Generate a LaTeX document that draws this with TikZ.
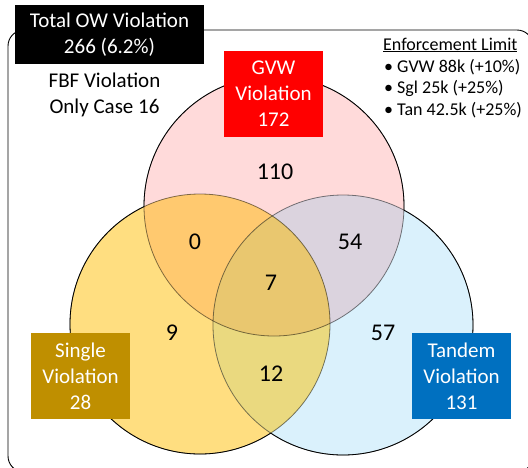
\documentclass[tikz,border=0pt]{standalone}
\usepackage{fontspec}
\setmainfont{Carlito}
\definecolor{pk}{HTML}{FFDADA}
\definecolor{yl}{HTML}{FFDE80}
\definecolor{bl}{HTML}{DAF1FC}
\definecolor{py}{HTML}{FFC96F}
\definecolor{pb}{HTML}{DBD3DE}
\definecolor{yb}{HTML}{EAD97F}
\definecolor{pyb}{HTML}{E9C76F}
\definecolor{gold}{HTML}{BF8F00}
\definecolor{tblue}{HTML}{0070C0}
\definecolor{gred}{HTML}{FF0000}
\begin{document}
\begin{tikzpicture}[x=1pt,y=-1pt,
  lbl/.style={font=\fontsize{21}{26}\selectfont, align=center, text=white, inner sep=0},
  plain/.style={font=\fontsize{21}{26}\selectfont, align=center, text=black, inner sep=0},
  num/.style={font=\fontsize{24}{28}\selectfont, inner sep=0},
  leg/.style={font=\fontsize{18}{21}\selectfont, inner sep=0, anchor=west},
  ring/.style={draw=black, line width=0.8pt}]
\useasboundingbox (0,0) rectangle (528,467);
\clip (0,0) rectangle (528,467);
\def\R{130pt}
\coordinate (P) at (274,206);
\coordinate (S) at (200,324);
\coordinate (T) at (343,325);
% outer frame
\draw[line width=0.9pt, rounded corners=16pt] (8,30) rectangle (533,472);
% fills
\fill[pk] (P) circle[radius=\R];
\fill[yl] (S) circle[radius=\R];
\fill[bl] (T) circle[radius=\R];
\begin{scope}
  \clip (P) circle[radius=\R];
  \fill[py] (S) circle[radius=\R];
  \fill[pb] (T) circle[radius=\R];
\end{scope}
\begin{scope}
  \clip (S) circle[radius=\R];
  \fill[yb] (T) circle[radius=\R];
  \clip (P) circle[radius=\R];
  \fill[pyb] (T) circle[radius=\R];
\end{scope}
% interior outlines
\draw[ring, draw opacity=0.5] (P) circle[radius=\R];
\draw[ring, draw opacity=0.5] (S) circle[radius=\R];
\draw[ring, draw opacity=0.5] (T) circle[radius=\R];
% outer outlines
\begin{scope}[even odd rule]
  \clip (0,0) rectangle (528,467) (S) circle[radius=\R];
  \clip (0,0) rectangle (528,467) (T) circle[radius=\R];
  \draw[ring] (P) circle[radius=\R];
\end{scope}
\begin{scope}[even odd rule]
  \clip (0,0) rectangle (528,467) (P) circle[radius=\R];
  \clip (0,0) rectangle (528,467) (T) circle[radius=\R];
  \draw[ring] (S) circle[radius=\R];
\end{scope}
\begin{scope}[even odd rule]
  \clip (0,0) rectangle (528,467) (P) circle[radius=\R];
  \clip (0,0) rectangle (528,467) (S) circle[radius=\R];
  \draw[ring] (T) circle[radius=\R];
\end{scope}
% numbers
\node[num] (n110) at (275,172) {110};
\node[num] (n0) at (195,242) {0};
\node[num] (n54) at (350,242) {54};
\node[num] (n7) at (271,283) {7};
\node[num] (n9) at (172,333) {9};
\node[num] (n57) at (383,333) {57};
\node[num] (n12) at (271,374) {12};
% label boxes
\node[lbl, fill=black, minimum width=189pt, minimum height=59pt] (tot) at (109.5,34.5) {Total OW Violation\\266 (6.2\%)};
\node[lbl, fill=gred, minimum width=99pt, minimum height=86pt] (gvw) at (273.5,94) {GVW\\Violation\\172};
\node[lbl, fill=gold, minimum width=99pt, minimum height=86pt] (sgl) at (80.5,376) {Single\\Violation\\28};
\node[lbl, fill=tblue, minimum width=99pt, minimum height=86pt] (tan) at (461.5,376) {Tandem\\Violation\\131};
\node[plain] (fbf) at (104.5,95) {FBF Violation\\Only Case 16};
% legend
\node[leg] (lt) at (383,45) {\underline{Enforcement Limit}};
\node[leg] (l1) at (384,67) {• GVW 88k (+10\%)};
\node[leg] (l2) at (384,88) {• Sgl 25k (+25\%)};
\node[leg] (l3) at (384,110) {• Tan 42.5k (+25\%)};
\end{tikzpicture}
\end{document}
